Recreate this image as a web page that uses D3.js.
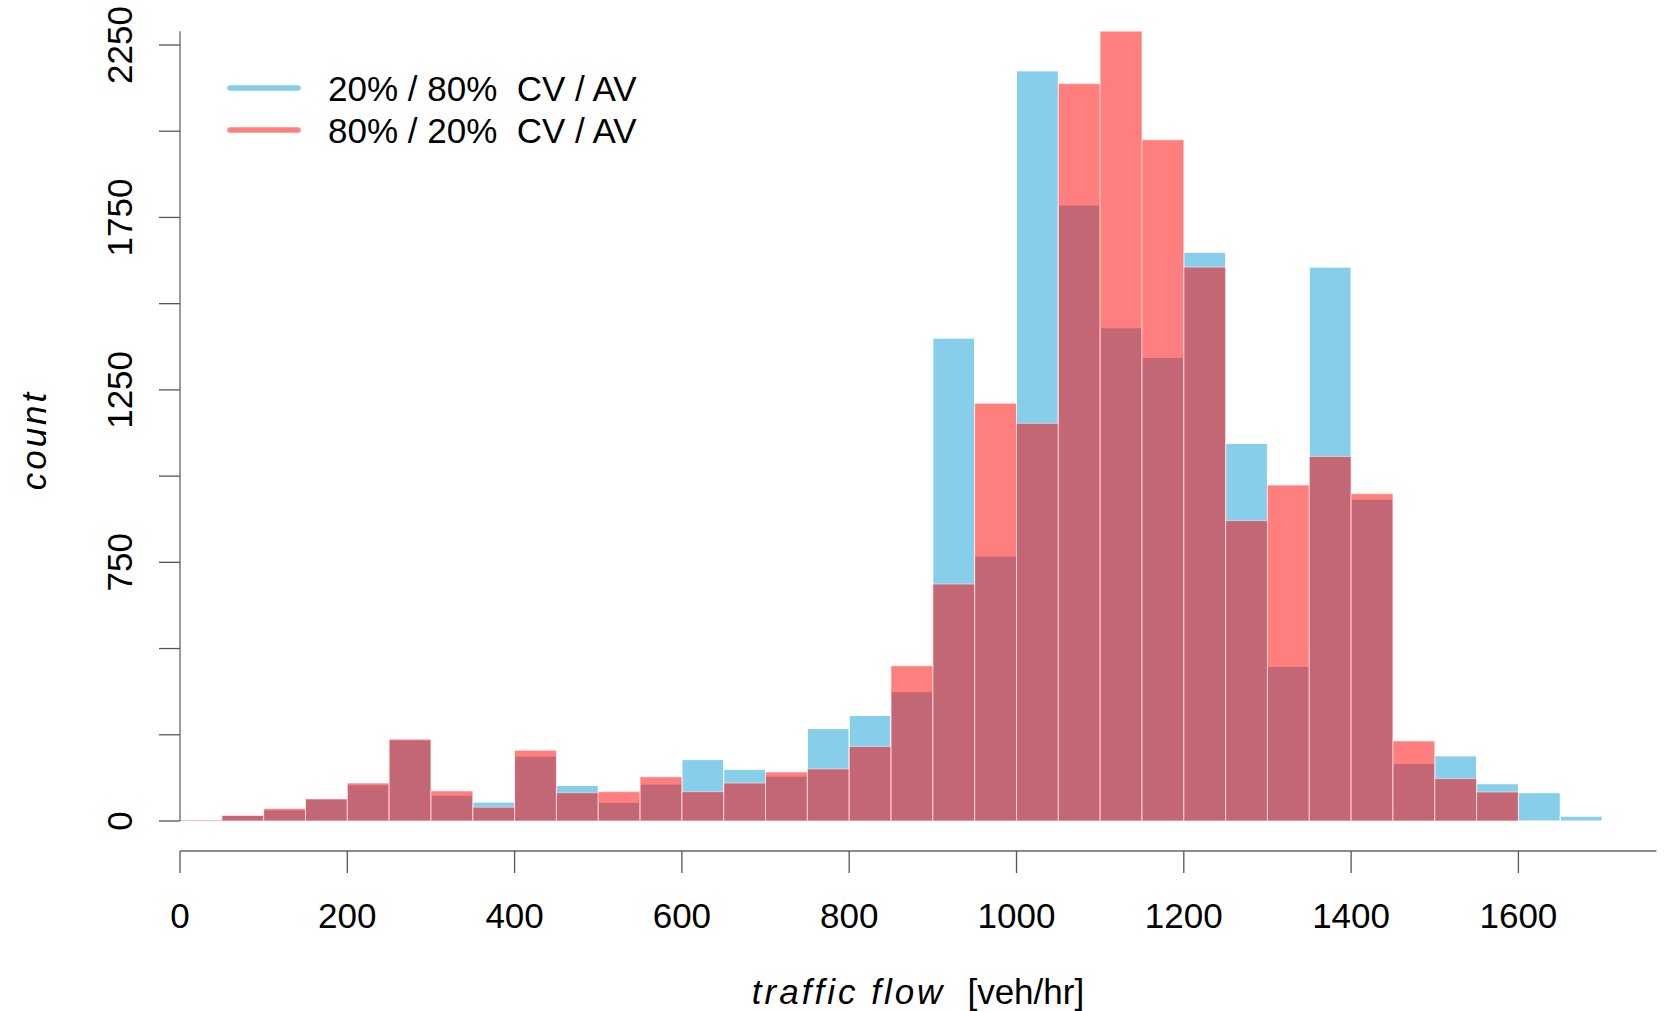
<!DOCTYPE html>
<html>
<head>
<meta charset="utf-8">
<script src="https://cdn.jsdelivr.net/npm/d3@7"></script>
<style>
  body { margin: 0; background: white; }
  text { font-family: "Liberation Sans", Arial, Helvetica, sans-serif; fill: black; }
</style>
</head>
<body>
<div id="chart"></div>
<script>
// bin left edges, width 50 veh/hr
const binStarts = [0, 50, 100, 150, 200, 250, 300, 350, 400, 450, 500, 550, 600, 650, 700, 750, 800,
  850, 900, 950, 1000, 1050, 1100, 1150, 1200, 1250, 1300, 1350, 1400, 1450, 1500, 1550, 1600, 1650];
const binWidth = 50;

// 20% / 80% CV / AV
const countsCv20 = [0, 16, 32, 64, 105, 235, 75, 55, 188, 103, 54, 107, 178, 150, 130, 268, 306,
  375, 1400, 768, 2175, 1786, 1430, 1344, 1649, 1095, 448, 1606, 933, 167, 189, 108, 82, 14];

// 80% / 20% CV / AV
const countsCv80 = [3, 16, 36, 64, 110, 237, 87, 40, 205, 82, 85, 128, 85, 110, 142, 151, 216,
  450, 687, 1211, 1153, 2138, 2290, 1975, 1606, 871, 974, 1057, 949, 232, 123, 84, 0, 0];

const xTicks = [0, 200, 400, 600, 800, 1000, 1200, 1400, 1600];
const yTicks = [0, 250, 500, 750, 1000, 1250, 1500, 1750, 2000, 2250];
const yTickLabels = [0, 750, 1250, 1750, 2250];
const legendLabels = ["20% / 80%  CV / AV", "80% / 20%  CV / AV"];

let dim = { width: 1665, height: 1011 };

let svg = d3.select("#chart").append("svg")
  .attr("width", dim.width)
  .attr("height", dim.height)
  .style("background", "white");

let x = d3.scaleLinear().domain([0, 1600]).range([180, 1518.4]);
let y = d3.scaleLinear().domain([0, 2250]).range([821, 45]);

let bins = binStarts.map((b, i) => ({ x0: b, blue: countsCv20[i], red: countsCv80[i] }));

// blue histogram first, translucent red on top
svg.append("g").selectAll("rect")
  .data(bins)
  .join("rect")
  .attr("x", (d) => x(d.x0))
  .attr("y", (d) => y(d.blue))
  .attr("width", (d) => x(d.x0 + binWidth) - x(d.x0))
  .attr("height", (d) => y(0) - y(d.blue))
  .attr("fill", "skyblue")
  .attr("stroke", (d) => (d.blue > 0 ? "white" : "none"))
  .attr("stroke-width", 1);

svg.append("g").selectAll("rect")
  .data(bins)
  .join("rect")
  .attr("x", (d) => x(d.x0))
  .attr("y", (d) => y(d.red))
  .attr("width", (d) => x(d.x0 + binWidth) - x(d.x0))
  .attr("height", (d) => y(0) - y(d.red))
  .attr("fill", "rgba(255,0,0,0.5)")
  .attr("stroke", (d) => (d.red > 0 ? "rgba(255,255,255,0.5)" : "none"))
  .attr("stroke-width", 1);

// x axis, drawn below the bars
let xAxisY = 851;
let gx = svg.append("g").attr("transform", `translate(0,${xAxisY})`);
gx.append("line")
  .attr("x1", x(0)).attr("x2", x(1765))
  .attr("y1", 0).attr("y2", 0)
  .attr("stroke", "#666").attr("stroke-width", 1.3);
gx.selectAll(".tick")
  .data(xTicks)
  .join("line")
  .attr("x1", (d) => x(d)).attr("x2", (d) => x(d))
  .attr("y1", 0).attr("y2", 22)
  .attr("stroke", "#555").attr("stroke-width", 1.3);
gx.selectAll("text")
  .data(xTicks)
  .join("text")
  .attr("x", (d) => x(d))
  .attr("y", 77)
  .attr("text-anchor", "middle")
  .attr("font-size", 35)
  .text((d) => d);

// y axis sits on x = 0, line runs up to the tallest bar
let ymax = d3.max(countsCv20.concat(countsCv80));
let gy = svg.append("g");
gy.append("line")
  .attr("x1", x(0)).attr("x2", x(0))
  .attr("y1", y(0)).attr("y2", y(ymax))
  .attr("stroke", "#666").attr("stroke-width", 1.3);
gy.selectAll(".tick")
  .data(yTicks)
  .join("line")
  .attr("x1", x(0) - 21).attr("x2", x(0))
  .attr("y1", (d) => y(d)).attr("y2", (d) => y(d))
  .attr("stroke", "#555").attr("stroke-width", 1.3);
gy.selectAll("text")
  .data(yTickLabels)
  .join("text")
  .attr("transform", (d) => `translate(132,${y(d)}) rotate(-90)`)
  .attr("text-anchor", "middle")
  .attr("font-size", 35)
  .text((d) => d);

// axis titles
let xTitle = svg.append("text")
  .attr("x", 918)
  .attr("y", 1004)
  .attr("text-anchor", "middle")
  .attr("font-size", 35);
xTitle.append("tspan")
  .attr("font-style", "italic")
  .attr("letter-spacing", 3)
  .text("traffic flow");
xTitle.append("tspan")
  .attr("dx", 22)
  .text("[veh/hr]");

svg.append("text")
  .attr("transform", "translate(46,440) rotate(-90)")
  .attr("text-anchor", "middle")
  .attr("font-size", 35)
  .attr("font-style", "italic")
  .attr("letter-spacing", 3)
  .text("count");

// legend
let legendColors = ["skyblue", "#ff8080"];
let legend = svg.append("g");
legendLabels.forEach((label, i) => {
  let ly = 88 + i * 42;
  legend.append("line")
    .attr("x1", 230).attr("x2", 298)
    .attr("y1", ly).attr("y2", ly)
    .attr("stroke", legendColors[i])
    .attr("stroke-width", 5.5)
    .attr("stroke-linecap", "round");
  legend.append("text")
    .attr("x", 328)
    .attr("y", ly + 13)
    .attr("font-size", 35)
    .style("white-space", "pre")
    .attr("xml:space", "preserve")
    .text(label);
});
</script>
</body>
</html>
